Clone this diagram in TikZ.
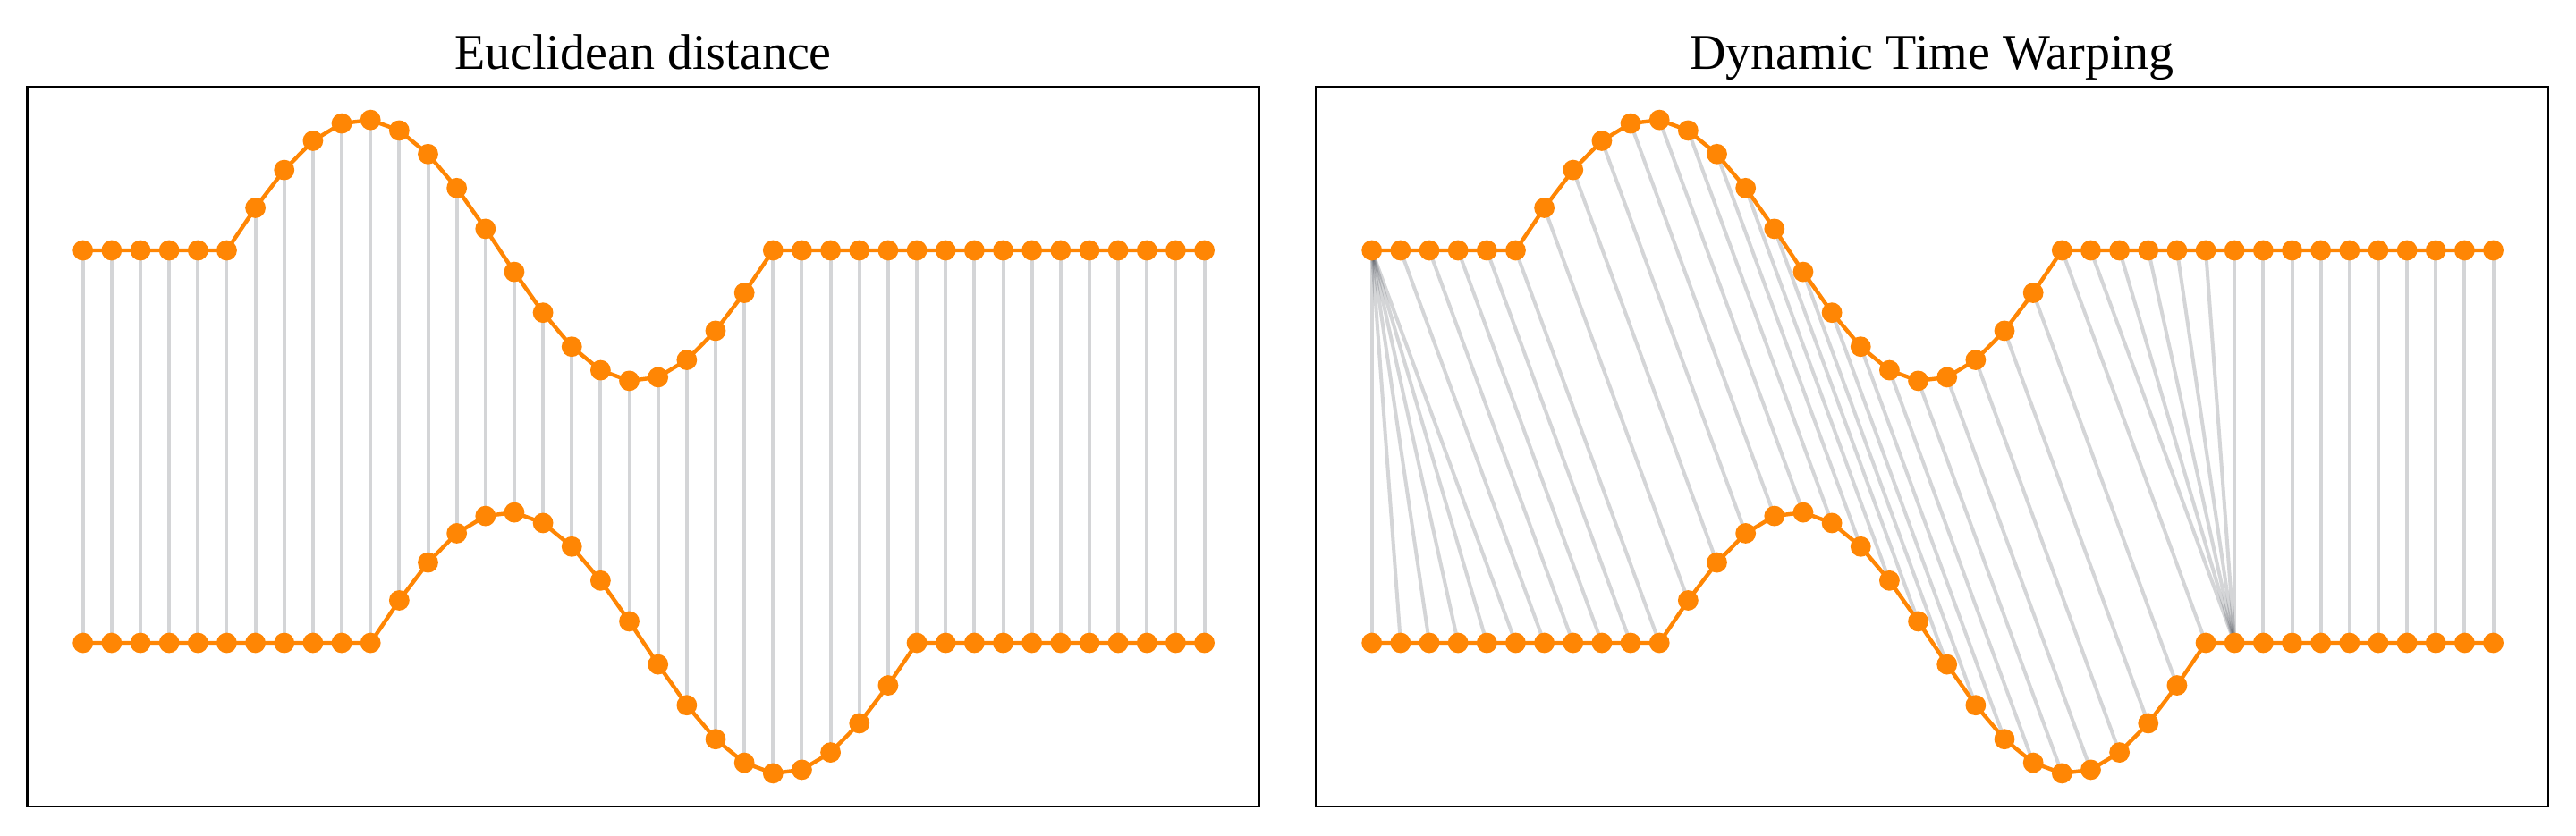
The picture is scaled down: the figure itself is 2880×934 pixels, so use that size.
\documentclass[tikz,border=0pt]{standalone}
\usepackage{fontspec}
\setmainfont{Liberation Serif}
\definecolor{orangeC}{RGB}{255,134,4}
\definecolor{linkC}{RGB}{40,45,55}
\begin{document}
\begin{tikzpicture}[x=0.25pt,y=-0.25pt]
\tikzset{
  frame/.style={draw=black, line width=0.55pt},
  series/.style={draw=orangeC, line width=1.1pt, line join=round},
  link/.style={draw=linkC, draw opacity=0.2, line width=1pt},
  title/.style={font=\fontsize{14}{16}\selectfont, anchor=base, inner sep=0pt},
  dot/.style={fill=orangeC}
}
\fill[white] (0,0) rectangle (2880,934);
\useasboundingbox (0,0) rectangle (2880,934);

% data points (named coordinates)
\foreach \P/\off in {L/30,R/1471} {
  \foreach \i in {0,...,39} {
    \pgfmathsetmacro\xx{\off+62.7+32.15*\i}
    \pgfmathsetmacro\ya{280-146.4*ifthenelse(\i>4,1,0)*ifthenelse(\i<25,1,0)*sin(360*(\i-5)/19)}
    \pgfmathsetmacro\yb{719-146.4*ifthenelse(\i>9,1,0)*ifthenelse(\i<30,1,0)*sin(360*(\i-10)/19)}
    \coordinate (\P t\i) at (\xx,\ya);
    \coordinate (\P b\i) at (\xx,\yb);
  }
}

% Euclidean links
\foreach \i in {0,...,39} \draw[link] (Lt\i) -- (Lb\i);

% DTW links
\foreach \j in {0,...,5} \draw[link] (Rt0) -- (Rb\j);
\foreach \i in {1,...,24} {
  \pgfmathtruncatemacro\j{\i+5}
  \draw[link] (Rt\i) -- (Rb\j);
}
\foreach \i in {25,...,30} \draw[link] (Rt\i) -- (Rb30);
\foreach \i in {31,...,39} \draw[link] (Rt\i) -- (Rb\i);

% series lines
\foreach \P in {L,R} {
  \foreach \s in {t,b} {
    \draw[series] (\P\s0) \foreach \i in {1,...,39} { -- (\P\s\i) };
  }
}
% dots
\foreach \P in {L,R} {
  \foreach \s in {t,b} {
    \foreach \i in {0,...,39} { \fill[dot] (\P\s\i) circle (2.85pt); }
  }
}

% frames and titles
\draw[frame] (30.5,97) rectangle (1407.5,902);
\draw[frame] (1471,97) rectangle (2849,902);
\node[title] (t1) at (719,77) {Euclidean distance};
\node[title] (t2) at (2160,77) {Dynamic Time Warping};
\end{tikzpicture}
\end{document}
